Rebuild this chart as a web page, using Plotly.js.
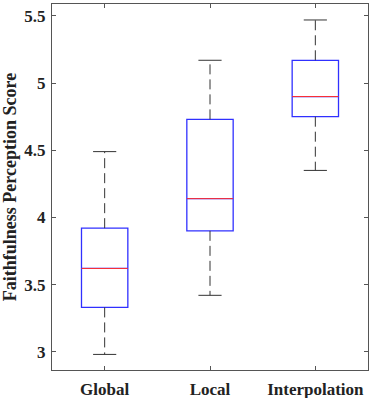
<!DOCTYPE html>
<html>
<head>
<meta charset="utf-8">
<script src="https://cdn.plot.ly/plotly-3.0.1.min.js"></script>
<style>
  html, body { margin: 0; padding: 0; background: #fff; }
  #chart { width: 374px; height: 398px; }
</style>
</head>
<body>
<div id="chart"></div>
<script>
// --------- DATOS
const grupos = ['Global', 'Local', 'Interpolation'];
const minimos = [2.98, 3.42, 4.35];
const q1s = [3.33, 3.90, 4.75];
const medianas = [3.62, 4.14, 4.90];
const q3s = [3.92, 4.73, 5.17];
const maximos = [4.49, 5.17, 5.47];
const yTicks = [3, 3.5, 4, 4.5, 5, 5.5];

// --------- ESTILO
const anchoCaja = 0.44;
const anchoTope = anchoCaja / 2;
const fuente = 'Liberation Serif, Times New Roman, serif';

const chart = document.getElementById('chart');
const trazas = [];

//Bigotes y topes (lineas discontinuas negras):
for (let i = 0; i < grupos.length; i++) {
  const x = i + 1;
  trazas.push({
    x: [x, x], y: [q3s[i], maximos[i]],
    mode: 'lines', line: {color: '#333', width: 1, dash: '10px,5px'},
    hoverinfo: 'skip', showlegend: false
  });
  trazas.push({
    x: [x, x], y: [q1s[i], minimos[i]],
    mode: 'lines', line: {color: '#333', width: 1, dash: '10px,5px'},
    hoverinfo: 'skip', showlegend: false
  });
  trazas.push({
    x: [x - anchoTope / 2, x + anchoTope / 2], y: [maximos[i], maximos[i]],
    mode: 'lines', line: {color: '#333', width: 1},
    hoverinfo: 'skip', showlegend: false
  });
  trazas.push({
    x: [x - anchoTope / 2, x + anchoTope / 2], y: [minimos[i], minimos[i]],
    mode: 'lines', line: {color: '#333', width: 1},
    hoverinfo: 'skip', showlegend: false
  });
}

//Cajas azules (sin bigotes, se dibujan aparte):
for (let i = 0; i < grupos.length; i++) {
  trazas.push({
    type: 'box',
    x: [i + 1],
    q1: [q1s[i]], median: [medianas[i]], q3: [q3s[i]],
    lowerfence: [q1s[i]], upperfence: [q3s[i]],
    width: anchoCaja,
    whiskerwidth: 0,
    fillcolor: 'rgba(255,255,255,0)',
    line: {color: '#3030ff', width: 1.3},
    boxpoints: false,
    hoverinfo: 'skip', showlegend: false
  });
}

//Medianas rojas:
for (let i = 0; i < grupos.length; i++) {
  const x = i + 1;
  trazas.push({
    x: [x - anchoCaja / 2, x + anchoCaja / 2], y: [medianas[i], medianas[i]],
    mode: 'lines', line: {color: '#ff3030', width: 1},
    hoverinfo: 'skip', showlegend: false
  });
}

const layout = {
  width: 374, height: 398,
  margin: {l: 52, r: 6, t: 4, b: 28},
  paper_bgcolor: '#fff', plot_bgcolor: '#fff',
  showlegend: false,
  font: {family: fuente, color: '#222'},
  xaxis: {
    range: [0.5, 3.5],
    tickvals: grupos.map((g, i) => i + 1),
    ticktext: grupos,
    ticks: 'inside', ticklen: 4, tickcolor: '#555',
    showline: true, linecolor: '#555', linewidth: 1, mirror: 'ticks',
    showgrid: false, zeroline: false,
    tickfont: {family: fuente, size: 17, color: '#222', weight: 'bold'},
    ticklabelstandoff: 4
  },
  yaxis: {
    range: [2.864, 5.589],
    tickvals: yTicks,
    ticktext: yTicks.map(String),
    ticks: 'inside', ticklen: 4, tickcolor: '#555',
    showline: true, linecolor: '#555', linewidth: 1, mirror: 'ticks',
    showgrid: false, zeroline: false,
    tickfont: {family: fuente, size: 17, color: '#222', weight: 'bold'},
    ticklabelstandoff: 2,
    title: {
      text: '<b>Faithfulness Perception Score</b>',
      font: {family: fuente, size: 18, color: '#222'},
      standoff: 6
    }
  }
};

Plotly.newPlot(chart, trazas, layout, {staticPlot: true});
</script>
</body>
</html>
